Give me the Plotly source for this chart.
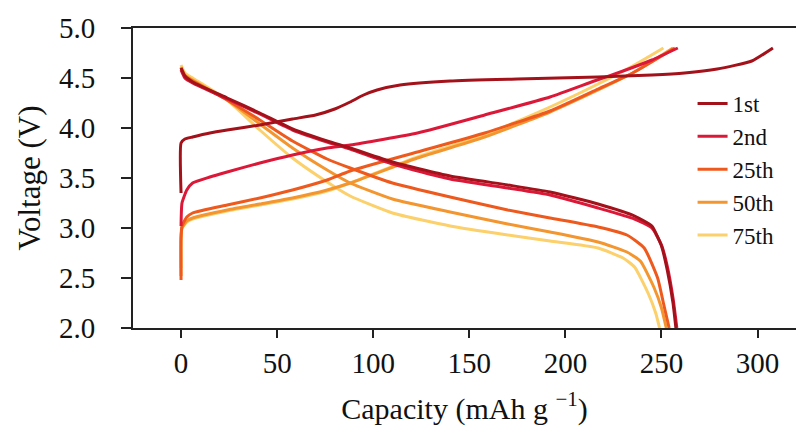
import plotly.graph_objects as go

# ---- data (capacity in mAh/g, voltage in V) ----
cycles = ["1st", "2nd", "25th", "50th", "75th"]
colors = ["#a3111a", "#dc1838", "#ee5a1e", "#f4962f", "#fcd06a"]

chg_1st_cap = [0, 0, 2, 6, 15, 24, 41, 58, 70, 80, 88, 95, 102, 114, 140, 175, 217, 245, 262, 279, 297, 308]
chg_1st_v = [3.35, 3.85, 3.89, 3.91, 3.95, 3.98, 4.03, 4.09, 4.13, 4.19, 4.26, 4.33, 4.38, 4.43, 4.47, 4.49, 4.51, 4.53, 4.55, 4.59, 4.67, 4.80]

chg_2nd_cap = [0, 0.5, 3, 6, 15, 24, 41, 58, 76, 88, 123, 158, 192, 215, 230, 245, 258.5]
chg_2nd_v = [3.02, 3.25, 3.38, 3.45, 3.51, 3.56, 3.65, 3.73, 3.80, 3.83, 3.95, 4.13, 4.31, 4.47, 4.57, 4.68, 4.80]

chg_25_cap = [0, 0, 0.5, 3, 6, 24, 41, 58, 76, 88, 123, 158, 192, 217, 235, 257]
chg_25_v = [2.48, 2.90, 3.02, 3.11, 3.15, 3.23, 3.30, 3.38, 3.48, 3.57, 3.76, 3.95, 4.17, 4.39, 4.55, 4.80]

chg_50_cap = [0, 0, 0.5, 3, 6, 24, 41, 58, 76, 88, 123, 158, 192, 217, 235, 256]
chg_50_v = [2.52, 2.90, 3.00, 3.07, 3.10, 3.18, 3.24, 3.30, 3.38, 3.45, 3.70, 3.91, 4.16, 4.38, 4.55, 4.80]

chg_75_cap = [0, 0, 0.5, 3, 6, 24, 41, 58, 76, 88, 123, 158, 192, 217, 235, 251]
chg_75_v = [2.60, 2.90, 3.00, 3.06, 3.09, 3.17, 3.23, 3.29, 3.37, 3.45, 3.71, 3.93, 4.21, 4.44, 4.62, 4.80]

dis_1st_cap = [0, 2, 6, 24, 41, 58, 76, 88, 110, 140, 170, 192, 217, 236, 245, 250, 253, 256, 257.5]
dis_1st_v = [4.60, 4.52, 4.46, 4.30, 4.15, 3.99, 3.87, 3.80, 3.66, 3.52, 3.43, 3.36, 3.24, 3.12, 3.02, 2.82, 2.58, 2.25, 2.00]

dis_2nd_cap = [0, 2, 6, 24, 41, 58, 76, 88, 110, 140, 170, 192, 217, 236, 245, 250, 253, 256, 258]
dis_2nd_v = [4.58, 4.50, 4.45, 4.29, 4.14, 3.98, 3.86, 3.79, 3.64, 3.49, 3.40, 3.33, 3.20, 3.09, 3.00, 2.83, 2.62, 2.30, 2.00]

dis_25_cap = [0, 2, 6, 24, 41, 58, 76, 88, 110, 140, 170, 192, 217, 232, 241, 248, 251, 254]
dis_25_v = [4.60, 4.52, 4.47, 4.28, 4.08, 3.87, 3.69, 3.60, 3.45, 3.31, 3.18, 3.10, 3.01, 2.93, 2.80, 2.50, 2.25, 2.00]

dis_50_cap = [0, 2, 6, 24, 41, 58, 76, 88, 110, 140, 170, 192, 217, 232, 239, 246, 250, 252.5]
dis_50_v = [4.61, 4.53, 4.48, 4.28, 4.04, 3.80, 3.58, 3.45, 3.29, 3.16, 3.04, 2.96, 2.86, 2.76, 2.67, 2.41, 2.20, 2.00]

dis_75_cap = [0, 2, 6, 24, 41, 58, 76, 88, 110, 140, 170, 192, 217, 230, 236, 243, 247, 249]
dis_75_v = [4.63, 4.55, 4.50, 4.28, 3.98, 3.70, 3.46, 3.32, 3.15, 3.02, 2.93, 2.87, 2.80, 2.70, 2.61, 2.35, 2.15, 2.00]

x_ticks = [0, 50, 100, 150, 200, 250, 300]
y_ticks = [2.0, 2.5, 3.0, 3.5, 4.0, 4.5, 5.0]

charge = [(chg_1st_cap, chg_1st_v), (chg_2nd_cap, chg_2nd_v), (chg_25_cap, chg_25_v),
          (chg_50_cap, chg_50_v), (chg_75_cap, chg_75_v)]
discharge = [(dis_1st_cap, dis_1st_v), (dis_2nd_cap, dis_2nd_v), (dis_25_cap, dis_25_v),
             (dis_50_cap, dis_50_v), (dis_75_cap, dis_75_v)]

FONT = "Liberation Serif"

fig = go.Figure()
# draw in reverse so earlier cycles sit on top
for i in reversed(range(len(cycles))):
    (cx, cv), (dx, dv) = charge[i], discharge[i]
    fig.add_trace(go.Scatter(
        x=list(cx) + [None] + list(dx),
        y=list(cv) + [None] + list(dv),
        mode="lines", name=cycles[i],
        line=dict(color=colors[i], width=3, shape="spline", smoothing=0.5),
        legendrank=i + 1,
    ))

axis_common = dict(showline=True, linecolor="#222", linewidth=2, ticks="outside",
                   tickwidth=2, tickcolor="#222", showgrid=False, zeroline=False,
                   automargin=False,
                   tickfont=dict(family=FONT, size=29, color="#111"))

fig.update_layout(
    width=796, height=426,
    margin=dict(l=133, r=0, t=28, b=98),
    paper_bgcolor="white", plot_bgcolor="white",
    font=dict(family=FONT, color="#111"),
    showlegend=True,
    legend=dict(x=0.844, y=0.82, xanchor="left", yanchor="top",
                font=dict(family=FONT, size=23, color="#111"),
                bgcolor="rgba(0,0,0,0)", traceorder="normal"),
    xaxis=dict(range=[-25, 320], tickvals=x_ticks, ticktext=[str(t) for t in x_ticks],
               mirror=True, ticklen=8, ticklabelstandoff=0,
               title=dict(text="Capacity (mAh g <sup>−1</sup>)", font=dict(family=FONT, size=30), standoff=20),
               **axis_common),
    yaxis=dict(range=[2.0, 5.0], tickvals=y_ticks, ticktext=[f"{t:.1f}" for t in y_ticks],
               ticklen=10, ticklabelstandoff=20,
               title=dict(text="Voltage (V)", font=dict(family=FONT, size=31), standoff=9),
               **axis_common),
)

fig.write_html("out.html", config={"displayModeBar": False},
               post_script="document.body.style.margin='0';document.body.style.padding='0';")
